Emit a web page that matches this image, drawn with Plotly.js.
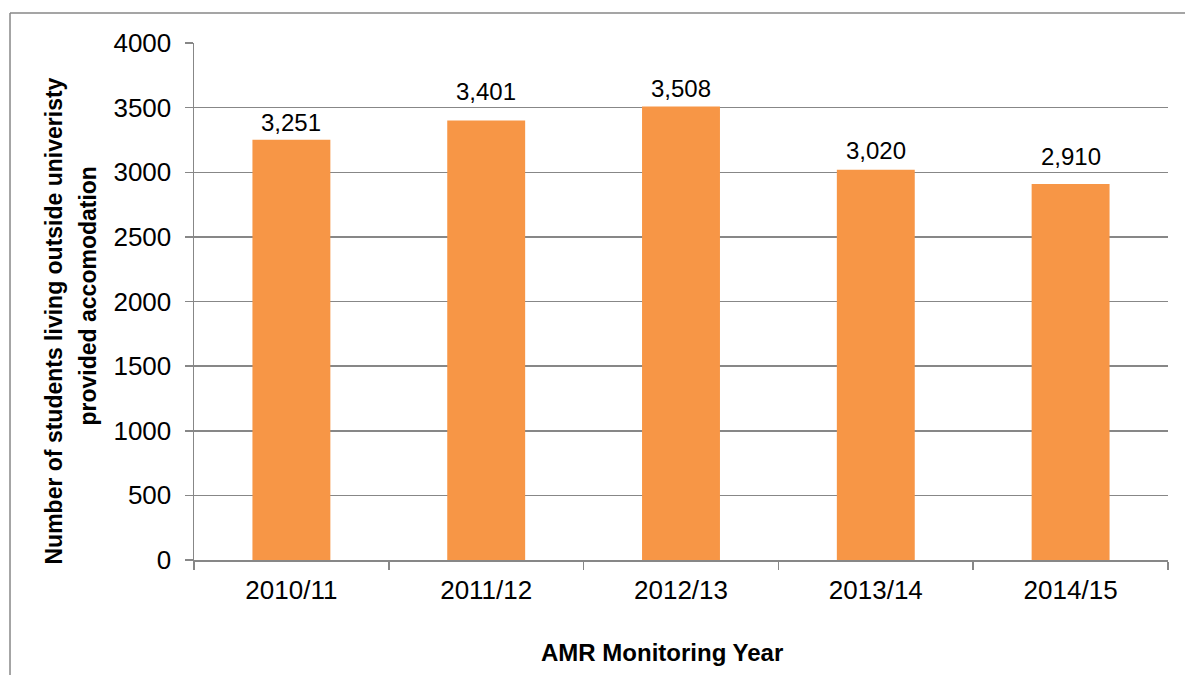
<!DOCTYPE html>
<html>
<head>
<meta charset="utf-8">
<script src="https://cdn.plot.ly/plotly-3.0.1.min.js"></script>
<style>html,body{margin:0;padding:0;background:#fff;}#chart{width:1185px;height:675px;}</style>
</head>
<body>
<div id="chart"></div>
<script>
var years = ["2010/11", "2011/12", "2012/13", "2013/14", "2014/15"];
var students = [3251, 3401, 3508, 3020, 2910];
var yTitleLine1 = "Number of students living outside univeristy";
var yTitleLine2 = "provided accomodation";
var xTitle = "AMR Monitoring Year";

// label placement (pixels above bar top, to the label's middle) - style only
var labelLift = [17, 29, 18, 19, 27];

var FONT = "Liberation Sans, Arial, sans-serif";
var GRAY = "#878787";

var trace = {
  type: "bar",
  x: years,
  y: students,
  marker: {color: "#F79646"},
  hoverinfo: "skip"
};

var annotations = [
  {text: "<b>" + yTitleLine1 + "</b>", textangle: -90, xref: "paper", yref: "paper",
   x: 0, y: 0.5, xanchor: "center", yanchor: "middle", xshift: -141, yshift: -20, showarrow: false,
   font: {family: FONT, size: 23, color: "#000"}},
  {text: "<b>" + yTitleLine2 + "</b>", textangle: -90, xref: "paper", yref: "paper",
   x: 0, y: 0.5, xanchor: "center", yanchor: "middle", xshift: -107, yshift: 5, showarrow: false,
   font: {family: FONT, size: 23, color: "#000"}},
  {text: "<b>" + xTitle + "</b>", xref: "paper", yref: "paper",
   x: 0.5, y: 0, xanchor: "center", yanchor: "middle", xshift: -19, yshift: -92, showarrow: false,
   font: {family: FONT, size: 24, color: "#000"}}
];
years.forEach(function (yr, i) {
  annotations.push({
    text: students[i].toLocaleString("en-US"), x: yr, y: students[i], xref: "x", yref: "y",
    xanchor: "center", yanchor: "middle", yshift: labelLift[i], showarrow: false,
    font: {family: FONT, size: 24, color: "#000"}
  });
});

var layout = {
  width: 1185, height: 675,
  margin: {l: 194, r: 17, t: 43, b: 115, pad: 0},
  paper_bgcolor: "#fff", plot_bgcolor: "#fff",
  showlegend: false,
  bargap: 0.6,
  font: {family: FONT, color: "#000"},
  xaxis: {
    type: "category",
    showline: true, linecolor: GRAY, linewidth: 1.5,
    ticks: "outside", tickson: "boundaries", ticklen: 8, tickcolor: GRAY, tickwidth: 1.5,
    tickfont: {family: FONT, size: 26, color: "#000"},
    ticklabelstandoff: 6,
    showgrid: false, zeroline: false
  },
  yaxis: {
    range: [0, 4000], dtick: 500, tick0: 0, tickformat: "d",
    showline: true, linecolor: GRAY, linewidth: 1.5,
    ticks: "outside", ticklen: 8, tickcolor: GRAY, tickwidth: 1.5,
    tickfont: {family: FONT, size: 26, color: "#000"},
    ticklabelstandoff: 8,
    showgrid: true, gridcolor: GRAY, gridwidth: 1.5,
    zeroline: false
  },
  annotations: annotations,
  shapes: [
    {type: "line", xref: "paper", yref: "paper", x0: -0.1889, x1: -0.1889, y0: 1.058, y1: -0.3,
     line: {color: GRAY, width: 1.5}},
    {type: "line", xref: "paper", yref: "paper", x0: -0.1889, x1: 1.1, y0: 1.058, y1: 1.058,
     line: {color: GRAY, width: 1.5}}
  ]
};

Plotly.newPlot("chart", [trace], layout, {displayModeBar: false, staticPlot: true});
</script>
</body>
</html>
